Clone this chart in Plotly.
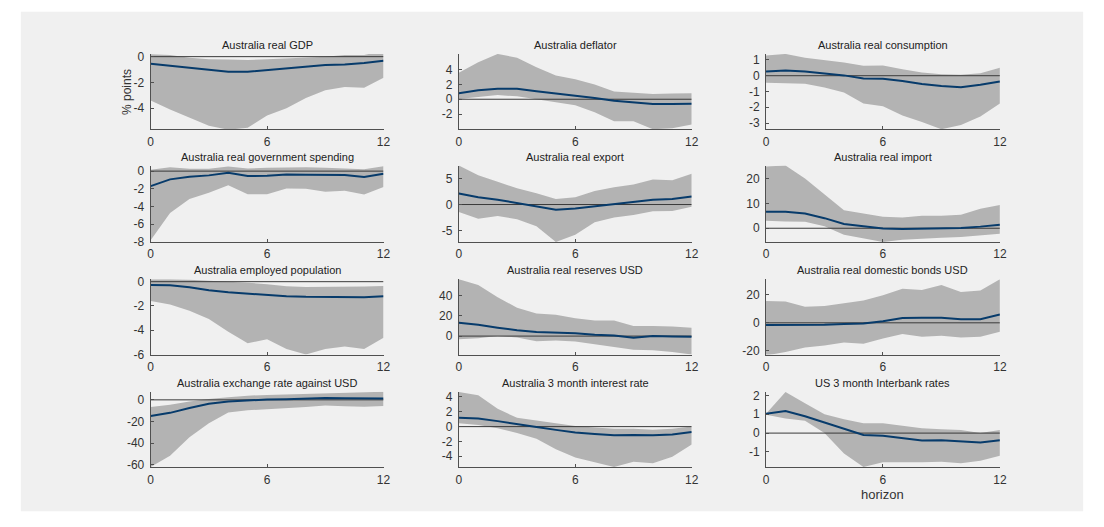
import plotly.graph_objects as go

W, H = 1104, 527

horizon = list(range(13))

titles = [
    "Australia real GDP", "Australia deflator", "Australia real consumption",
    "Australia real government spending", "Australia real export", "Australia real import",
    "Australia employed population", "Australia real reserves USD", "Australia real domestic bonds USD",
    "Australia exchange rate against USD", "Australia 3 month interest rate", "US 3 month Interbank rates",
]

gdp_med = [-0.55, -0.7, -0.86, -1.04, -1.17, -1.17, -1.04, -0.86, -0.75, -0.65, -0.6, -0.5, -0.31]
gdp_up = [0.18, 0.13, -0.08, -0.2, -0.22, -0.26, -0.2, -0.13, -0.05, 0.0, 0.13, 0.13, 0.44]
gdp_lo = [-3.4, -4.1, -4.75, -5.35, -5.66, -5.5, -4.55, -4.0, -3.2, -2.6, -2.36, -2.4, -1.64]

defl_med = [0.82, 1.2, 1.42, 1.42, 1.07, 0.77, 0.52, 0.17, -0.2, -0.43, -0.64, -0.64, -0.6]
defl_up = [3.56, 4.98, 6.1, 5.6, 4.3, 3.2, 2.7, 2.0, 1.03, 0.82, 0.7, 0.77, 0.82]
defl_lo = [0.05, 0.34, 0.56, 0.39, 0.04, -0.4, -0.8, -1.76, -2.96, -2.96, -4.05, -3.9, -3.4]

cons_med = [0.26, 0.33, 0.26, 0.16, 0.02, -0.18, -0.2, -0.33, -0.53, -0.65, -0.73, -0.57, -0.37]
cons_up = [1.28, 1.38, 1.14, 1.0, 0.83, 0.63, 0.65, 0.41, 0.2, 0.1, 0.06, 0.16, 0.51]
cons_lo = [-0.45, -0.49, -0.51, -0.75, -1.06, -1.77, -1.94, -2.53, -2.94, -3.4, -3.13, -2.58, -1.77]

gov_med = [-1.7, -0.93, -0.63, -0.48, -0.19, -0.56, -0.52, -0.37, -0.41, -0.44, -0.44, -0.67, -0.3]
gov_up = [0.15, 0.44, 0.26, 0.26, 0.52, 0.3, 0.37, 0.44, 0.44, 0.37, 0.33, 0.22, 0.55]
gov_lo = [-7.8, -4.74, -3.15, -2.44, -1.6, -2.6, -2.6, -1.96, -2.0, -2.33, -2.22, -2.63, -1.78]

exp_med = [2.1, 1.37, 0.93, 0.3, -0.3, -1.0, -0.75, -0.3, 0.12, 0.5, 0.93, 1.06, 1.55]
exp_up = [7.45, 5.6, 4.35, 3.1, 2.17, 1.06, 1.4, 2.6, 3.3, 3.85, 4.8, 4.66, 5.9]
exp_lo = [-1.43, -2.7, -2.2, -2.8, -4.16, -7.15, -5.8, -3.4, -2.5, -2.0, -1.3, -1.24, -0.43]

imp_med = [6.67, 6.67, 5.9, 4.05, 1.7, 0.65, -0.13, -0.26, -0.13, -0.13, 0.13, 0.65, 1.44]
imp_up = [24.8, 25.2, 20.0, 13.7, 7.2, 5.9, 4.6, 4.3, 5.0, 5.0, 5.4, 7.8, 9.3]
imp_lo = [3.0, 2.75, 2.6, 0.8, -2.6, -3.9, -5.5, -4.6, -4.2, -3.8, -3.5, -2.9, -2.2]

emp_med = [-0.27, -0.3, -0.45, -0.7, -0.88, -1.0, -1.1, -1.2, -1.25, -1.28, -1.28, -1.28, -1.2]
emp_up = [0.19, 0.21, 0.16, 0.1, 0.0, -0.08, -0.21, -0.37, -0.43, -0.43, -0.4, -0.4, -0.35]
emp_lo = [-1.6, -1.87, -2.4, -3.07, -4.13, -5.07, -4.75, -5.55, -6.0, -5.55, -5.33, -5.55, -4.61]

res_med = [13.0, 11.1, 8.25, 5.7, 4.1, 3.8, 2.9, 1.3, 0.6, -1.6, 0.0, -0.3, -0.6]
res_up = [55.9, 50.2, 38.1, 27.9, 22.2, 21.0, 17.5, 15.2, 15.2, 9.8, 9.8, 9.5, 8.25]
res_lo = [-3.2, -2.2, 0.0, -1.3, -5.1, -4.4, -5.4, -8.6, -10.8, -13.3, -14.0, -15.6, -18.1]

bond_med = [-1.6, -1.6, -1.4, -1.4, -0.9, -0.5, 1.2, 3.5, 3.7, 3.7, 2.6, 2.6, 6.0]
bond_up = [15.6, 15.3, 11.6, 12.1, 14.0, 16.0, 19.8, 24.4, 23.5, 27.2, 22.1, 23.3, 31.4]
bond_lo = [-23.5, -21.0, -17.7, -16.3, -14.2, -15.1, -11.2, -8.1, -10.0, -9.3, -10.5, -10.0, -6.5]

fx_med = [-15.0, -12.0, -7.5, -3.6, -1.5, -0.3, 0.3, 0.6, 1.2, 1.8, 1.5, 1.2, 1.2]
fx_up = [-6.6, -4.5, -1.5, 0.9, 2.4, 3.9, 4.5, 5.1, 5.7, 6.3, 6.9, 7.2, 7.5]
fx_lo = [-62.0, -51.6, -34.5, -21.6, -11.7, -9.6, -8.7, -7.5, -6.6, -5.1, -6.0, -6.3, -5.7]

ir_med = [1.18, 1.1, 0.74, 0.31, -0.04, -0.44, -0.79, -1.0, -1.18, -1.14, -1.18, -1.05, -0.74]
ir_up = [4.67, 4.24, 2.4, 1.18, 0.83, 0.44, 0.09, -0.13, -0.3, -0.3, -0.44, -0.3, 0.0]
ir_lo = [0.44, 0.22, -0.22, -0.87, -1.62, -3.06, -4.15, -4.8, -5.46, -4.72, -4.93, -4.06, -2.4]

us_med = [1.03, 1.17, 0.9, 0.57, 0.21, -0.1, -0.14, -0.29, -0.4, -0.38, -0.45, -0.5, -0.38]
us_up = [1.03, 2.19, 1.59, 1.0, 0.74, 0.52, 0.52, 0.38, 0.26, 0.21, 0.16, 0.0, 0.17]
us_lo = [0.98, 0.78, 0.66, 0.0, -1.09, -1.81, -1.55, -1.55, -1.55, -1.52, -1.6, -1.47, -1.21]

medians = [gdp_med, defl_med, cons_med, gov_med, exp_med, imp_med,
           emp_med, res_med, bond_med, fx_med, ir_med, us_med]
uppers = [gdp_up, defl_up, cons_up, gov_up, exp_up, imp_up,
          emp_up, res_up, bond_up, fx_up, ir_up, us_up]
lowers = [gdp_lo, defl_lo, cons_lo, gov_lo, exp_lo, imp_lo,
          emp_lo, res_lo, bond_lo, fx_lo, ir_lo, us_lo]

y_ranges = [[-5.63, 0.21], [-4.05, 6.1], [-3.4, 1.38],
            [-8.0, 0.63], [-7.15, 7.45], [-5.5, 25.2],
            [-6.0, 0.21], [-18.1, 55.9], [-22.8, 31.4],
            [-62.1, 7.5], [-5.46, 4.7], [-1.81, 2.2]]
y_ticks = [[-4, -2, 0], [-2, 0, 2, 4], [-3, -2, -1, 0, 1],
           [-8, -6, -4, -2, 0], [-5, 0, 5], [0, 10, 20],
           [-6, -4, -2, 0], [0, 20, 40], [-20, 0, 20],
           [-60, -40, -20, 0], [-4, -2, 0, 2, 4], [-1, 0, 1, 2]]
x_ticks = [0, 6, 12]

# layout in pixels
col_x = [(149, 384), (460, 695), (770, 1006)]
row_y = [(51, 128), (165, 243), (281, 358), (396, 473)]

BAND = "#b3b3b3"
LINE = "#073b6b"
ZERO = "#3a3a3a"
AXC = "#505050"
FONT = "Liberation Sans, Arial, sans-serif"

fig = go.Figure()
annotations = []

for i in range(12):
    r, c = divmod(i, 3)
    xa = "x" if i == 0 else f"x{i+1}"
    ya = "y" if i == 0 else f"y{i+1}"
    xk = "xaxis" if i == 0 else f"xaxis{i+1}"
    yk = "yaxis" if i == 0 else f"yaxis{i+1}"
    fig.add_trace(go.Scatter(
        x=horizon + horizon[::-1], y=uppers[i] + lowers[i][::-1],
        fill="toself", fillcolor=BAND, line=dict(width=0, color=BAND),
        mode="lines", hoverinfo="skip", showlegend=False, xaxis=xa, yaxis=ya))
    fig.add_trace(go.Scatter(
        x=[horizon[0], horizon[-1]], y=[0, 0], mode="lines",
        line=dict(color=ZERO, width=1), showlegend=False, xaxis=xa, yaxis=ya))
    fig.add_trace(go.Scatter(
        x=horizon, y=medians[i], mode="lines",
        line=dict(color=LINE, width=2), showlegend=False, xaxis=xa, yaxis=ya))

    x0, x1 = col_x[c]
    t0, b0 = row_y[r]
    fig.layout[xk] = dict(
        domain=[x0 / W, x1 / W], range=[0, 12], anchor=ya,
        tickvals=x_ticks, ticktext=[str(v) for v in x_ticks],
        ticks="inside", ticklen=3, tickcolor=AXC, ticklabelstandoff=1,
        showline=True, linecolor=AXC, linewidth=1, showgrid=False, zeroline=False,
        tickfont=dict(family=FONT, size=12, color="#333333"), fixedrange=True)
    fig.layout[yk] = dict(
        domain=[1 - b0 / H, 1 - t0 / H], range=y_ranges[i], anchor=xa,
        tickvals=y_ticks[i], ticktext=[str(v) for v in y_ticks[i]],
        ticks="inside", ticklen=3, tickcolor=AXC, ticklabelstandoff=3,
        showline=True, linecolor=AXC, linewidth=1, showgrid=False, zeroline=False,
        tickfont=dict(family=FONT, size=12, color="#333333"), fixedrange=True)
    annotations.append(dict(
        text=titles[i], x=(x0 + x1) / 2 / W, y=1 - (t0 - 1) / H,
        xref="paper", yref="paper", xanchor="center", yanchor="bottom",
        showarrow=False, font=dict(family=FONT, size=11, color="#222222")))

annotations.append(dict(
    text="% points", x=125 / W, y=1 - 90 / H, xref="paper", yref="paper",
    xanchor="center", yanchor="middle", textangle=-90, showarrow=False,
    font=dict(family=FONT, size=12, color="#333333")))
annotations.append(dict(
    text="horizon", x=888 / W, y=1 - 501 / H, xref="paper", yref="paper",
    xanchor="center", yanchor="middle", showarrow=False,
    font=dict(family=FONT, size=13, color="#333333")))

fig.update_layout(
    width=W, height=H, margin=dict(l=0, r=0, t=0, b=0),
    paper_bgcolor="white", plot_bgcolor="white",
    annotations=annotations,
    shapes=[dict(type="rect", xref="paper", yref="paper",
                 x0=18 / W, x1=1090 / W, y0=1 - 518 / H, y1=1 - 8 / H,
                 fillcolor="#f0f0f0", line=dict(width=0), layer="below")],
    showlegend=False,
)

fig.write_html("out.html")
